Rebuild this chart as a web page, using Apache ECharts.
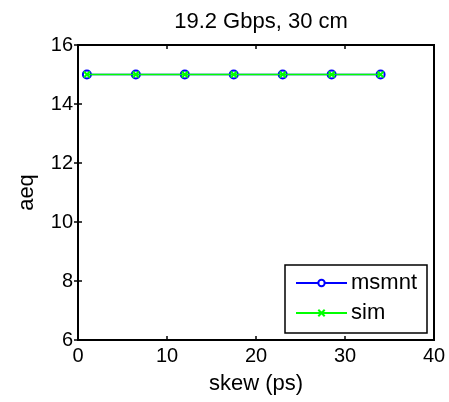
<!DOCTYPE html>
<html>
<head>
<meta charset="utf-8">
<script src="https://cdn.jsdelivr.net/npm/echarts@6/dist/echarts.min.js"></script>
<style>
html,body{margin:0;padding:0;background:#fff;}
#chart{width:449px;height:402px;}
</style>
</head>
<body>
<div id="chart"></div>
<script>
// skew sweep (ps) and resulting aeq values
const skew = [1, 6.5, 12, 17.5, 23, 28.5, 34];
const msmnt = [15, 15, 15, 15, 15, 15, 15];
const sim = [15, 15, 15, 15, 15, 15, 15];
const xTicks = [0, 10, 20, 30, 40];
const yTicks = [6, 8, 10, 12, 14, 16];

const font = 'Liberation Sans, Arial, sans-serif';
const crossPath = 'path://M0,0L10,10M10,0L0,10';

const gridLeft = 78, gridRight = 15;
const chart = echarts.init(document.getElementById('chart'), null, {renderer: 'canvas'});
const pairs = (ys) => skew.map((x, i) => [x, ys[i]]);

chart.setOption({
  animation: false,
  title: {
    text: '19.2 Gbps, 30 cm',
    left: gridLeft + (449 - gridLeft - gridRight) / 2, textAlign: 'center', top: 6,
    textStyle: {fontFamily: font, fontSize: 22, fontWeight: 'normal', color: '#000'}
  },
  grid: {left: gridLeft, right: gridRight, top: 45, bottom: 62, show: true, borderColor: '#000', borderWidth: 2, backgroundColor: '#fff'},
  xAxis: [{
    type: 'value', min: xTicks[0], max: xTicks[xTicks.length - 1], interval: 10,
    name: 'skew (ps)', nameLocation: 'middle', nameGap: 33,
    nameTextStyle: {fontFamily: font, fontSize: 22, color: '#000'},
    axisLine: {show: true, lineStyle: {color: '#000', width: 2}},
    axisTick: {inside: true, length: 4, lineStyle: {color: '#000', width: 1.5}},
    axisLabel: {fontFamily: font, fontSize: 20, color: '#000', margin: 6},
    splitLine: {show: false}
  }, {
    type: 'value', position: 'top', min: xTicks[0], max: xTicks[xTicks.length - 1], interval: 10,
    axisLine: {show: false},
    axisTick: {inside: true, length: 4, lineStyle: {color: '#000', width: 1.5}},
    axisLabel: {show: false}, splitLine: {show: false}
  }],
  yAxis: [{
    type: 'value', min: yTicks[0], max: yTicks[yTicks.length - 1], interval: 2,
    name: 'aeq', nameLocation: 'middle', nameGap: 40,
    nameTextStyle: {fontFamily: font, fontSize: 22, color: '#000'},
    axisLine: {show: true, lineStyle: {color: '#000', width: 2}},
    axisTick: {inside: true, length: 4, lineStyle: {color: '#000', width: 1.5}},
    axisLabel: {fontFamily: font, fontSize: 20, color: '#000', margin: 5},
    splitLine: {show: false}
  }, {
    type: 'value', position: 'right', min: yTicks[0], max: yTicks[yTicks.length - 1], interval: 2,
    axisLine: {show: false},
    axisTick: {inside: true, length: 4, lineStyle: {color: '#000', width: 1.5}},
    axisLabel: {show: false}, splitLine: {show: false}
  }],
  legend: {
    right: 22, bottom: 69, orient: 'vertical', itemGap: 8,
    itemWidth: 51, itemHeight: 8,
    padding: [7, 10, 9, 10],
    backgroundColor: '#fff', borderColor: '#000', borderWidth: 1.5, borderRadius: 0,
    textStyle: {fontFamily: font, fontSize: 22, color: '#000', padding: [0, 0, 0, -1]},
    data: ['msmnt', 'sim']
  },
  series: [{
    name: 'msmnt', type: 'line', data: pairs(msmnt),
    symbol: 'circle', symbolSize: 8, showAllSymbol: true,
    lineStyle: {color: '#0000ff', width: 1.5},
    itemStyle: {color: '#fff', borderColor: '#0000ff', borderWidth: 2},
    z: 2
  }, {
    name: 'sim', type: 'line', data: pairs(sim),
    symbol: crossPath, symbolSize: 6, showAllSymbol: true,
    lineStyle: {color: '#00ff00', width: 1.5},
    itemStyle: {color: '#00ff00', borderColor: '#00ff00', borderWidth: 2},
    z: 3
  }]
});
</script>
</body>
</html>
